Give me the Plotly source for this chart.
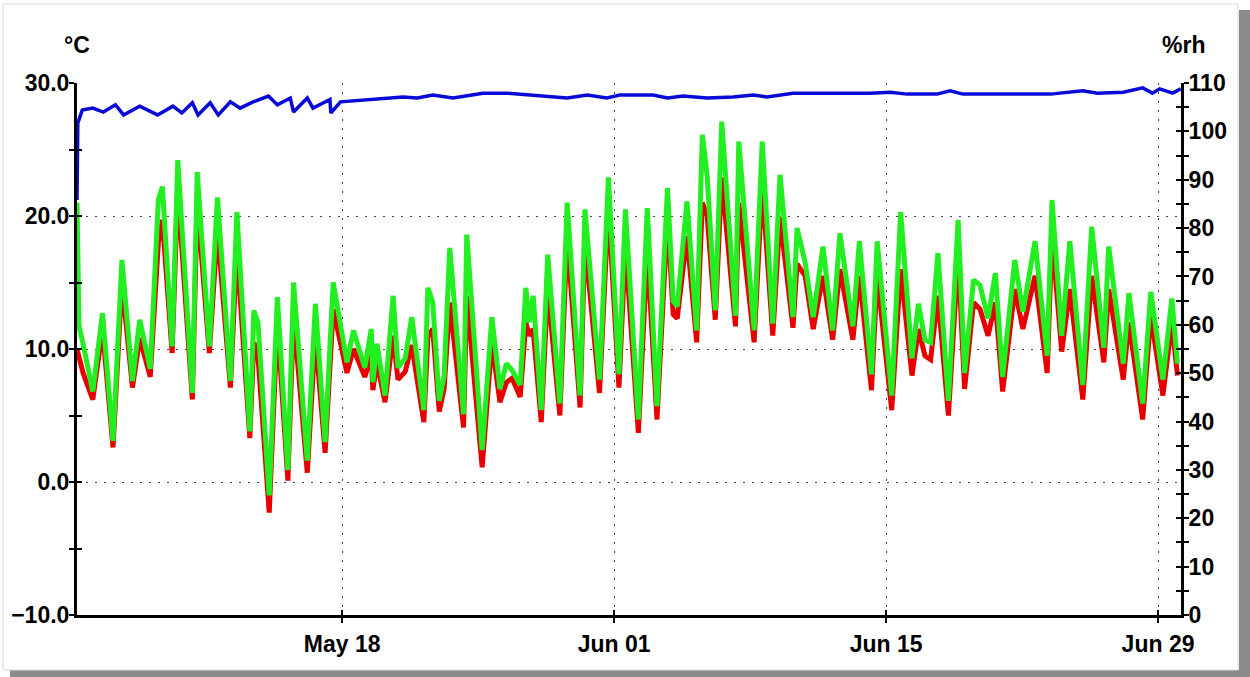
import plotly.graph_objects as go

# Logger record: air temperature, dew point and relative humidity
times = [
    "2021-05-04 08:30", "2021-05-04 11:00", "2021-05-04 16:00", "2021-05-05 04:00", "2021-05-05 16:00",
    "2021-05-06 05:00", "2021-05-06 16:00", "2021-05-07 05:00", "2021-05-07 14:00", "2021-05-08 03:00",
    "2021-05-08 13:00", "2021-05-08 18:00", "2021-05-09 06:00", "2021-05-09 13:00", "2021-05-10 07:00",
    "2021-05-10 13:00", "2021-05-11 04:00", "2021-05-11 14:00", "2021-05-12 06:00", "2021-05-12 14:00",
    "2021-05-13 06:00", "2021-05-13 11:00", "2021-05-13 16:00", "2021-05-14 06:00", "2021-05-14 16:00",
    "2021-05-15 05:00", "2021-05-15 12:00", "2021-05-16 05:00", "2021-05-16 15:00", "2021-05-17 03:00",
    "2021-05-17 13:00", "2021-05-18 06:00", "2021-05-18 14:00", "2021-05-19 04:00", "2021-05-19 12:00",
    "2021-05-19 14:00", "2021-05-19 19:00", "2021-05-20 05:00", "2021-05-20 15:00", "2021-05-20 21:00",
    "2021-05-21 06:00", "2021-05-21 14:00", "2021-05-22 05:00", "2021-05-22 10:00", "2021-05-22 16:00",
    "2021-05-23 00:00", "2021-05-23 06:00", "2021-05-23 13:00", "2021-05-24 06:00", "2021-05-24 10:00",
    "2021-05-25 05:00", "2021-05-25 17:00", "2021-05-26 03:00", "2021-05-26 11:00", "2021-05-26 18:00",
    "2021-05-27 04:00", "2021-05-27 11:00", "2021-05-27 15:00", "2021-05-27 20:00", "2021-05-28 06:00",
    "2021-05-28 14:00", "2021-05-29 05:00", "2021-05-29 14:00", "2021-05-30 06:00", "2021-05-30 12:00",
    "2021-05-31 06:00", "2021-05-31 17:00", "2021-06-01 06:00", "2021-06-01 14:00", "2021-06-02 06:00",
    "2021-06-02 17:00", "2021-06-03 05:00", "2021-06-03 18:00", "2021-06-04 01:00", "2021-06-04 06:00",
    "2021-06-04 18:00", "2021-06-05 06:00", "2021-06-05 13:00", "2021-06-05 19:00", "2021-06-06 05:00",
    "2021-06-06 13:00", "2021-06-07 06:00", "2021-06-07 10:00", "2021-06-08 05:00", "2021-06-08 15:00",
    "2021-06-09 04:00", "2021-06-09 13:00", "2021-06-10 05:00", "2021-06-10 10:00", "2021-06-10 20:00",
    "2021-06-11 06:00", "2021-06-11 18:00", "2021-06-12 06:00", "2021-06-12 15:00", "2021-06-13 07:00",
    "2021-06-13 15:00", "2021-06-14 06:00", "2021-06-14 13:00", "2021-06-15 07:00", "2021-06-15 18:00",
    "2021-06-16 08:00", "2021-06-16 16:00", "2021-06-17 00:00", "2021-06-17 07:00", "2021-06-17 16:00",
    "2021-06-18 05:00", "2021-06-18 17:00", "2021-06-19 01:00", "2021-06-19 12:00", "2021-06-19 20:00",
    "2021-06-20 06:00", "2021-06-20 15:00", "2021-06-21 00:00", "2021-06-21 15:00", "2021-06-22 01:00",
    "2021-06-22 16:00", "2021-06-23 07:00", "2021-06-23 13:00", "2021-06-24 01:00", "2021-06-24 11:00",
    "2021-06-25 03:00", "2021-06-25 14:00", "2021-06-26 05:00", "2021-06-26 11:00", "2021-06-27 05:00",
    "2021-06-27 12:00", "2021-06-28 05:00", "2021-06-28 15:00", "2021-06-29 06:00", "2021-06-29 17:00",
    "2021-06-30 00:00",
]

temperature = [
    21.0, 11.7, 10.4, 6.8, 12.7,
    3.1, 16.7, 7.6, 12.2, 8.5,
    21.2, 22.2, 10.2, 24.2, 6.7,
    23.3, 10.2, 21.4, 7.6, 20.3,
    3.8, 12.9, 12.0, -1.0, 13.9,
    0.9, 15.0, 1.6, 13.4, 3.0,
    15.0, 9.0, 11.4, 8.6, 11.5,
    7.5, 10.4, 6.5, 14.0, 8.6,
    9.3, 12.4, 5.4, 14.6, 13.5,
    6.1, 8.0, 17.6, 5.1, 18.6,
    2.4, 12.4, 7.0, 8.9, 8.4,
    7.3, 14.6, 12.0, 14.0, 5.4,
    17.1, 5.9, 21.0, 6.5, 20.5,
    7.7, 22.9, 8.1, 20.5, 4.7,
    20.6, 5.7, 22.1, 13.6, 13.2,
    21.1, 11.4, 26.1, 23.0, 12.9,
    27.1, 12.5, 25.6, 11.4, 25.6,
    11.9, 23.1, 12.4, 19.1, 16.5,
    12.4, 17.7, 11.4, 18.7, 11.7,
    18.1, 8.1, 18.1, 6.5, 20.3,
    9.3, 13.4, 10.7, 10.5, 17.2,
    6.1, 19.7, 8.2, 15.2, 14.8,
    12.3, 15.7, 7.9, 16.7, 12.8,
    18.1, 9.5, 21.2, 11.0, 18.1,
    7.3, 19.2, 10.1, 17.7, 8.9,
    14.2, 5.9, 14.3, 7.7, 13.8,
    8.9,
]

dewpoint = [
    10.0, 9.5, 8.2, 6.2, 11.5,
    2.6, 15.0, 7.1, 10.8, 7.9,
    18.0, 19.7, 9.7, 22.0, 6.2,
    21.0, 9.7, 19.0, 7.1, 17.5,
    3.3, 10.5, 9.5, -2.3, 12.0,
    0.1, 12.5, 0.7, 11.0, 2.2,
    13.0, 8.2, 10.0, 7.9, 9.5,
    6.9, 9.0, 6.0, 11.0, 7.7,
    8.3, 10.3, 4.5, 11.0, 11.5,
    5.3, 7.0, 13.5, 4.1, 14.0,
    1.1, 10.5, 6.0, 7.5, 7.8,
    6.4, 12.0, 11.0, 11.5, 4.5,
    14.5, 5.0, 18.4, 5.6, 18.1,
    6.7, 20.7, 7.1, 17.7, 3.7,
    17.4, 4.7, 20.0, 12.6, 12.3,
    18.5, 10.5, 21.0, 20.0, 12.2,
    22.9, 11.7, 21.0, 10.5, 22.3,
    11.0, 19.9, 11.6, 16.4, 15.5,
    11.5, 15.5, 10.7, 16.0, 10.7,
    15.5, 6.9, 15.5, 5.4, 16.0,
    8.0, 11.5, 9.5, 9.2, 14.0,
    5.0, 17.0, 7.0, 13.5, 13.0,
    11.0, 13.5, 6.8, 14.5, 11.5,
    15.5, 8.2, 18.5, 9.8, 14.5,
    6.2, 15.5, 9.0, 14.5, 7.7,
    12.0, 4.7, 12.5, 6.5, 12.0,
    8.0,
]

rh_times = [
    "2021-05-04 08:30", "2021-05-04 09:30", "2021-05-04 15:00", "2021-05-05 04:00", "2021-05-05 17:00",
    "2021-05-06 08:00", "2021-05-06 18:00", "2021-05-07 14:00", "2021-05-08 12:00", "2021-05-09 07:00",
    "2021-05-09 18:00", "2021-05-10 07:00", "2021-05-10 14:00", "2021-05-11 05:00", "2021-05-11 15:00",
    "2021-05-12 06:00", "2021-05-12 18:00", "2021-05-13 10:00", "2021-05-14 05:00", "2021-05-14 16:00",
    "2021-05-15 08:00", "2021-05-15 12:00", "2021-05-16 05:00", "2021-05-16 12:00", "2021-05-17 09:00",
    "2021-05-17 10:00", "2021-05-17 22:00", "2021-05-19 07:00", "2021-05-20 11:00", "2021-05-21 03:00",
    "2021-05-21 21:00", "2021-05-22 16:00", "2021-05-23 17:00", "2021-05-25 06:00", "2021-05-26 12:00",
    "2021-05-27 20:00", "2021-05-29 14:00", "2021-05-30 15:00", "2021-05-31 15:00", "2021-06-01 07:00",
    "2021-06-03 00:00", "2021-06-03 18:00", "2021-06-04 13:00", "2021-06-05 19:00", "2021-06-07 03:00",
    "2021-06-08 04:00", "2021-06-08 21:00", "2021-06-10 05:00", "2021-06-12 03:00", "2021-06-14 04:00",
    "2021-06-15 05:00", "2021-06-16 02:00", "2021-06-17 15:00", "2021-06-18 07:00", "2021-06-18 23:00",
    "2021-06-23 11:00", "2021-06-25 03:00", "2021-06-25 21:00", "2021-06-27 05:00", "2021-06-28 05:00",
    "2021-06-28 17:00", "2021-06-29 02:00", "2021-06-29 18:00", "2021-06-30 04:00",
]

humidity = [
    85.8, 101.7, 104.4, 104.8, 104.0,
    105.5, 103.4, 105.2, 103.4, 105.2,
    103.8, 105.9, 103.4, 105.9, 103.4,
    106.1, 104.8, 106.1, 107.3, 105.5,
    106.9, 104.0, 106.9, 104.8, 106.6,
    103.8, 106.1, 106.6, 106.9, 107.1,
    106.9, 107.5, 106.9, 107.9, 107.9,
    107.5, 106.9, 107.5, 106.9, 107.5,
    107.5, 106.9, 107.3, 106.9, 107.1,
    107.5, 107.1, 107.9, 107.9, 107.9,
    108.1, 107.7, 107.7, 108.4, 107.7,
    107.7, 108.4, 107.9, 108.1, 109.0,
    107.9, 108.8, 107.9, 108.8,
]

x_range = ["2021-05-04 08:30", "2021-06-30 04:20"]
temp_range = [-10, 30]
rh_range = [0, 110]

# plot area in pixels
W, H = 1250, 677
L, R, T, B = 77, 69, 83, 62
PW, PH = W - L - R, H - T - B


def px(x):
    return (x - L) / PW


def py(y):
    return (H - B - y) / PH


FONT = "Liberation Sans"
tick_font = dict(family=FONT, size=23, color="black", weight="bold")
DAY_MS = 86400000

fig = go.Figure()
fig.add_trace(go.Scatter(x=times, y=dewpoint, mode="lines",
                         line=dict(color="#e80000", width=5), hoverinfo="skip"))
fig.add_trace(go.Scatter(x=times, y=temperature, mode="lines",
                         line=dict(color="#22ee22", width=5), hoverinfo="skip"))
fig.add_trace(go.Scatter(x=rh_times, y=humidity, mode="lines", yaxis="y2",
                         line=dict(color="#0a0ad8", width=3.5), hoverinfo="skip"))
# empty traces so the tick-only overlay axes are drawn
fig.add_trace(go.Scatter(x=[], y=[], xaxis="x2", yaxis="y3", showlegend=False))
fig.add_trace(go.Scatter(x=[], y=[], xaxis="x2", yaxis="y4", showlegend=False))

grid = dict(showgrid=True, gridcolor="#444444", gridwidth=1.3, griddash="2px,7px")

fig.update_layout(
    width=W, height=H,
    margin=dict(l=L, r=R, t=T, b=B, pad=0, autoexpand=False),
    paper_bgcolor="white", plot_bgcolor="white",
    showlegend=False,
    xaxis=dict(
        type="date", range=x_range, tick0="2021-05-18", dtick=14 * DAY_MS,
        tickformat="%b %d", tickfont=tick_font, ticks="outside", ticklen=5,
        tickwidth=2, tickcolor="black", showline=True, linecolor="black",
        linewidth=3, layer="below traces", zeroline=False, ticklabelstandoff=1,
        automargin=False, **grid,
    ),
    xaxis2=dict(
        type="date", range=x_range, tick0="2021-05-18", dtick=14 * DAY_MS,
        overlaying="x", anchor="y", ticks="inside", ticklen=5, tickwidth=2,
        tickcolor="black", showticklabels=False, showgrid=False, showline=False,
        zeroline=False, automargin=False,
    ),
    yaxis=dict(
        range=temp_range, dtick=10, tickformat=".1f", tickfont=tick_font,
        ticks="outside", ticklen=5, tickwidth=2, tickcolor="black",
        minor=dict(dtick=5, ticks="outside", ticklen=5, tickwidth=2, tickcolor="black"),
        showline=True, linecolor="black", linewidth=3, layer="below traces",
        zeroline=False, ticklabelstandoff=-5, automargin=False, **grid,
    ),
    yaxis2=dict(
        range=rh_range, dtick=10, tickfont=tick_font, overlaying="y", side="right",
        anchor="x", ticks="outside", ticklen=5, tickwidth=2, tickcolor="black",
        minor=dict(dtick=5, ticks="outside", ticklen=5, tickwidth=2, tickcolor="black"),
        showline=True, linecolor="black", linewidth=3, layer="below traces",
        showgrid=False, zeroline=False, ticklabelstandoff=-5, automargin=False,
    ),
    yaxis3=dict(
        range=temp_range, dtick=10, overlaying="y", side="left", anchor="x2",
        ticks="inside", ticklen=5, tickwidth=2, tickcolor="black",
        minor=dict(dtick=5, ticks="inside", ticklen=5, tickwidth=2, tickcolor="black"),
        showticklabels=False, showgrid=False, showline=False, zeroline=False,
        automargin=False,
    ),
    yaxis4=dict(
        range=rh_range, dtick=10, overlaying="y", side="right", anchor="x2",
        ticks="inside", ticklen=5, tickwidth=2, tickcolor="black",
        minor=dict(dtick=5, ticks="inside", ticklen=5, tickwidth=2, tickcolor="black"),
        showticklabels=False, showgrid=False, showline=False, zeroline=False,
        automargin=False,
    ),
    annotations=[
        dict(text="°C", xref="paper", yref="paper", x=px(77), y=py(45),
             xanchor="center", yanchor="middle", showarrow=False,
             font=dict(family=FONT, size=23, color="black", weight="bold")),
        dict(text="%rh", xref="paper", yref="paper", x=px(1183), y=py(45),
             xanchor="center", yanchor="middle", showarrow=False,
             font=dict(family=FONT, size=23, color="black", weight="bold")),
    ],
    shapes=[
        # drop shadow around the chart panel
        dict(type="rect", xref="paper", yref="paper", x0=px(10), x1=px(1250),
             y0=py(677), y1=py(670), fillcolor="#8c8c8c", line=dict(width=0), layer="below"),
        dict(type="rect", xref="paper", yref="paper", x0=px(1239), x1=px(1250),
             y0=py(677), y1=py(10), fillcolor="#8c8c8c", line=dict(width=0), layer="below"),
        # thin panel border
        dict(type="rect", xref="paper", yref="paper", x0=px(3), x1=px(1238),
             y0=py(670), y1=py(4), fillcolor="rgba(0,0,0,0)",
             line=dict(color="#d8d8d8", width=1), layer="below"),
    ],
)

fig.write_html("out.html")
